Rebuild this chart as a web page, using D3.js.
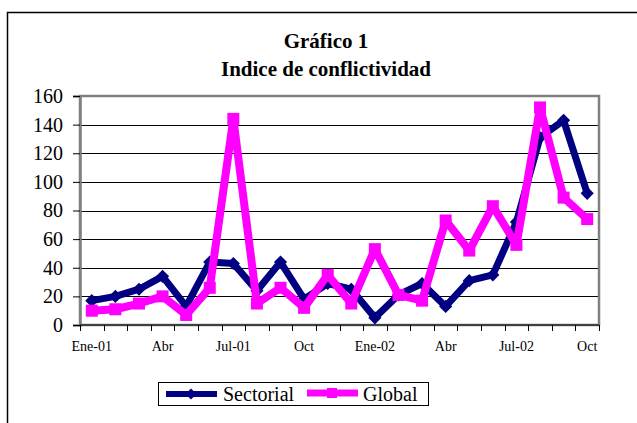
<!DOCTYPE html>
<html>
<head>
<meta charset="utf-8" />
<title>Indice de conflictividad</title>
<script src="https://cdn.jsdelivr.net/npm/d3@7"></script>
<style>
  body { margin: 0; background: #fff; }
  text { font-family: "Liberation Serif", "Times New Roman", serif; fill: #000; }
</style>
</head>
<body>
<script>
  // months Ene-01 .. Oct-02, label shown every 3rd month
  var months = ["Ene-01","Feb-01","Mar-01","Abr","May-01","Jun-01","Jul-01","Ago-01","Sep-01","Oct","Nov-01","Dic-01",
                "Ene-02","Feb-02","Mar-02","Abr","May-02","Jun-02","Jul-02","Ago-02","Sep-02","Oct"];
  var shownLabels = [0, 3, 6, 9, 12, 15, 18, 21];
  var sectorial = [17, 20, 25, 34, 13, 44, 43, 24, 44, 18, 29, 25, 5, 21, 29, 13, 31, 35, 72, 131, 143, 92];
  var global    = [10, 11, 15, 20, 7, 26, 144, 15, 26, 12, 35, 15, 53, 21, 17, 73, 52, 83, 56, 152, 89, 74];
  var yTicks = [0, 20, 40, 60, 80, 100, 120, 140, 160];

  var W = 637, H = 423;
  var pLeft = 80, pRight = 599, pTop = 96, pBottom = 325;

  var svg = d3.select("body").append("svg")
      .attr("width", W).attr("height", H);

  // outer frame
  svg.append("rect")
      .attr("x", 7.5).attr("y", 12.5)
      .attr("width", 640).attr("height", 420)
      .attr("fill", "none").attr("stroke", "#000").attr("stroke-width", 1.5);

  svg.append("text").attr("x", 326).attr("y", 48)
      .attr("text-anchor", "middle").attr("font-weight", "bold")
      .attr("font-size", 21).text("Gráfico 1");
  svg.append("text").attr("x", 326).attr("y", 76)
      .attr("text-anchor", "middle").attr("font-weight", "bold")
      .attr("font-size", 21).text("Indice de conflictividad");

  var x = d3.scaleBand().domain(d3.range(months.length)).range([pLeft, pRight]).padding(0);
  var y = d3.scaleLinear().domain([0, 160]).range([pBottom, pTop]);

  // gridlines
  svg.append("g").selectAll("line")
    .data(yTicks.filter(function(d) { return d > 0 && d < 160; }))
    .enter().append("line")
      .attr("x1", pLeft).attr("x2", pRight)
      .attr("y1", function(d) { return Math.round(y(d)) + 0.5; })
      .attr("y2", function(d) { return Math.round(y(d)) + 0.5; })
      .attr("stroke", "#000").attr("stroke-width", 1);

  // plot border
  svg.append("rect")
      .attr("x", pLeft).attr("y", pTop)
      .attr("width", pRight - pLeft).attr("height", pBottom - pTop)
      .attr("fill", "none").attr("stroke", "#808080").attr("stroke-width", 2.5);

  // y axis
  var yAxis = d3.axisLeft(y).tickValues(yTicks).tickSize(7).tickPadding(10);
  var gy = svg.append("g").attr("transform", "translate(" + pLeft + ",0)").call(yAxis);
  gy.select(".domain").attr("stroke", "#808080").attr("stroke-width", 2.5);
  gy.selectAll(".tick line").attr("stroke", "#000").attr("stroke-width", 1);
  gy.selectAll(".tick text").attr("font-size", 20)
      .style("font-family", "'Liberation Serif', serif");

  // x axis line and ticks at category boundaries
  svg.append("line").attr("x1", pLeft).attr("x2", pRight)
      .attr("y1", pBottom).attr("y2", pBottom)
      .attr("stroke", "#404040").attr("stroke-width", 2);
  var bounds = months.map(function(m, i) { return x(i); }).concat([pRight]);
  svg.append("g").selectAll("line").data(bounds).enter().append("line")
      .attr("x1", function(d) { return Math.round(d) + 0.5; })
      .attr("x2", function(d) { return Math.round(d) + 0.5; })
      .attr("y1", pBottom).attr("y2", pBottom + 6)
      .attr("stroke", "#000").attr("stroke-width", 1);
  svg.append("g").selectAll("text").data(shownLabels).enter().append("text")
      .attr("x", function(i) { return x(i) + x.bandwidth() / 2; })
      .attr("y", 351)
      .attr("text-anchor", "middle").attr("font-size", 14)
      .text(function(i) { return months[i]; });

  var cx = function(d, i) { return x(i) + x.bandwidth() / 2; };
  var line = d3.line().x(cx).y(function(d) { return y(d); });

  // Sectorial
  svg.append("path").datum(sectorial)
      .attr("d", line).attr("fill", "none")
      .attr("stroke", "#000080").attr("stroke-width", 7).attr("stroke-linejoin", "round");
  svg.append("g").selectAll("path").data(sectorial).enter().append("path")
      .attr("d", d3.symbol().type(d3.symbolDiamond2).size(110))
      .attr("transform", function(d, i) { return "translate(" + cx(d, i) + "," + y(d) + ")"; })
      .attr("fill", "#000080");

  // Global
  svg.append("path").datum(global)
      .attr("d", line).attr("fill", "none")
      .attr("stroke", "#ff00ff").attr("stroke-width", 8).attr("stroke-linejoin", "round");
  svg.append("g").selectAll("rect").data(global).enter().append("rect")
      .attr("x", function(d, i) { return cx(d, i) - 6; })
      .attr("y", function(d) { return y(d) - 6; })
      .attr("width", 12).attr("height", 12)
      .attr("fill", "#ff00ff");

  // legend
  var lg = svg.append("g");
  lg.append("rect").attr("x", 158.5).attr("y", 382.5).attr("width", 270).attr("height", 23)
      .attr("fill", "#fff").attr("stroke", "#000").attr("stroke-width", 1);
  lg.append("line").attr("x1", 166).attr("x2", 217).attr("y1", 394).attr("y2", 394)
      .attr("stroke", "#000080").attr("stroke-width", 6);
  lg.append("path").attr("d", d3.symbol().type(d3.symbolDiamond2).size(80))
      .attr("transform", "translate(191,394)").attr("fill", "#000080");
  lg.append("text").attr("x", 223).attr("y", 401).attr("font-size", 20).text("Sectorial");
  lg.append("line").attr("x1", 307).attr("x2", 358).attr("y1", 393).attr("y2", 393)
      .attr("stroke", "#ff00ff").attr("stroke-width", 7);
  lg.append("rect").attr("x", 327).attr("y", 388).attr("width", 10).attr("height", 10)
      .attr("fill", "#ff00ff");
  lg.append("text").attr("x", 363).attr("y", 401).attr("font-size", 20).text("Global");
</script>
</body>
</html>
